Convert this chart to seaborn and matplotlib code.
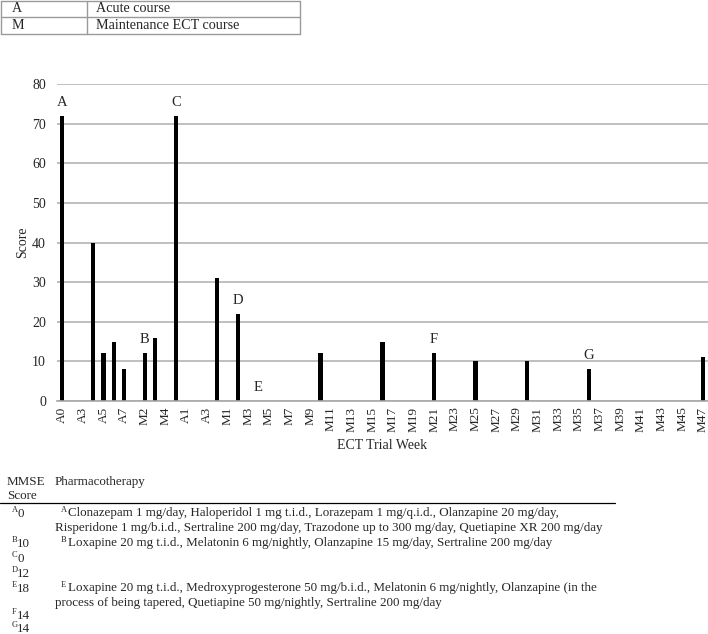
import numpy as np
import pandas as pd
import matplotlib
matplotlib.use("Agg")
import matplotlib.pyplot as plt
import seaborn as sns

# ECT trial weeks (A = acute course, M = maintenance course)
weeks = ["A0", "A1", "A3", "A4", "A5", "A6", "A7", "M1", "M2", "M3", "M4",
         "A0", "A1", "A2", "A3", "A4",
         "M1", "M2", "M3", "M4", "M5", "M6", "M7", "M8", "M9", "M10",
         "M11", "M12", "M13", "M14", "M15", "M16", "M17", "M18", "M19", "M20",
         "M21", "M22", "M23", "M24", "M25", "M26", "M27", "M28", "M29", "M30",
         "M31", "M32", "M33", "M34", "M35", "M36", "M37", "M38", "M39", "M40",
         "M41", "M42", "M43", "M44", "M45", "M46", "M47"]
scores = [72, 0, 0, 40, 12, 15, 8, 0, 12, 16, 0,
          72, 0, 0, 0, 31,
          0, 22, 0, 0, 0, 0, 0, 0, 0, 12,
          0, 0, 0, 0, 0, 15, 0, 0, 0, 0,
          12, 0, 0, 0, 10, 0, 0, 0, 0, 10,
          0, 0, 0, 0, 0, 8, 0, 0, 0, 0,
          0, 0, 0, 0, 0, 0, 11]

# letter markers above bars (index into weeks)
note_letters = ["A", "B", "C", "D", "E", "F", "G"]
note_pos = [0, 8, 11, 17, 19, 36, 51]

legend_codes = ["A", "M"]
legend_names = ["Acute course", "Maintenance ECT course"]

mmse = ["0", "10", "0", "12", "18", "14", "14"]
pharma = {
    "A": ["Clonazepam 1 mg/day, Haloperidol 1 mg t.i.d., Lorazepam 1 mg/q.i.d., Olanzapine 20 mg/day,",
          "Risperidone 1 mg/b.i.d., Sertraline 200 mg/day, Trazodone up to 300 mg/day, Quetiapine XR 200 mg/day"],
    "B": ["Loxapine 20 mg t.i.d., Melatonin 6 mg/nightly, Olanzapine 15 mg/day, Sertraline 200 mg/day"],
    "E": ["Loxapine 20 mg t.i.d., Medroxyprogesterone 50 mg/b.i.d., Melatonin 6 mg/nightly, Olanzapine (in the",
          "process of being tapered, Quetiapine 50 mg/nightly, Sertraline 200 mg/day"],
}

sns.set_style("white")
plt.rcParams["font.family"] = ["Liberation Serif", "DejaVu Serif"]

W, H = 708, 634
fig = plt.figure(figsize=(W / 100, H / 100), dpi=100)
ax = fig.add_axes([57 / W, 1 - 401 / H, 651 / W, 317 / H])

df = pd.DataFrame({"pos": np.arange(len(weeks)), "score": scores})
sns.barplot(data=df, x="pos", y="score", color="black", saturation=1,
            width=0.45, linewidth=0, ax=ax)

ax.set_xlim(-0.5, len(weeks) - 0.5)
ax.set_ylim(0, 80)
ax.set_yticks(range(0, 81, 10))
ax.yaxis.grid(True, color="#b4b4b4", linewidth=1.2)
ax.set_axisbelow(True)
for side in ["left", "top", "right"]:
    ax.spines[side].set_visible(False)
ax.spines["bottom"].set_color("#a8a8a8")
ax.spines["bottom"].set_linewidth(1.2)

ax.set_xticks(range(0, len(weeks), 2))
ax.set_xticklabels(weeks[::2], rotation=90, fontsize=9.5)
ax.set_xticks(np.arange(-0.5, len(weeks), 1), minor=True)
ax.tick_params(axis="x", which="major", length=0, pad=4)
ax.tick_params(axis="x", which="minor", length=4, color="#a8a8a8", direction="out")
ax.tick_params(axis="y", length=0, labelsize=10, pad=8)

ax.set_ylabel("Score", fontsize=10)
ax.yaxis.set_label_coords(-28 / 651, 0.5)
ax.set_xlabel("ECT Trial Week", fontsize=10, labelpad=5)

for letter, p in zip(note_letters, note_pos):
    ax.text(p, scores[p] + 1.8, letter, ha="center", va="bottom", fontsize=10.5)

# overlay in pixel coords for the tables
ov = fig.add_axes([0, 0, 1, 1])
ov.set_xlim(0, W)
ov.set_ylim(H, 0)
ov.axis("off")
ov.patch.set_alpha(0)

# top key table
grey = "#9a9a9a"
for yy in [0.5, 17, 33.5]:
    ov.plot([1, 300], [yy, yy], color=grey, lw=1)
for xx in [1, 87, 300]:
    ov.plot([xx, xx], [0.5, 33.5], color=grey, lw=1)
for i, (c, n) in enumerate(zip(legend_codes, legend_names)):
    yy = 9 + 16.5 * i
    ov.text(12, yy, c, fontsize=10.2, va="center")
    ov.text(96, yy, n, fontsize=10.2, va="center")

# bottom table
fs = 9.4
sup = 6
ov.text(7, 482, "MMSE", fontsize=fs, va="center")
ov.text(7, 496, "Score", fontsize=fs, va="center")
ov.text(55, 482, "Pharmacotherapy", fontsize=fs, va="center")
ov.plot([0, 615], [503, 503], color="black", lw=0.9)

row_y = [513, 543, 558, 573, 588, 615, 628]
for letter, val, yy in zip(note_letters, mmse, row_y):
    ov.text(12, yy - 3, letter, fontsize=sup, va="center")
    ov.text(17, yy + 1, val, fontsize=fs, va="center")
    if letter in pharma:
        for j, line in enumerate(pharma[letter]):
            if j == 0:
                ov.text(61, yy - 3, letter, fontsize=sup, va="center")
                ov.text(68, yy, line, fontsize=fs, va="center")
            else:
                ov.text(55, yy + 15 * j, line, fontsize=fs, va="center")

fig.savefig("out.png", dpi=100)
